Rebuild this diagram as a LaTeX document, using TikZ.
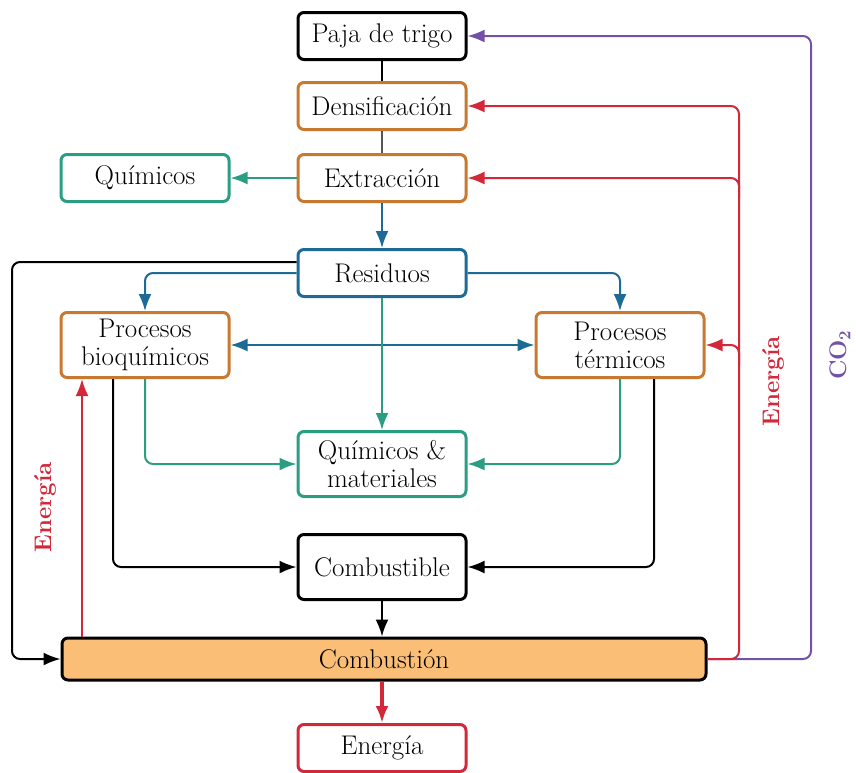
\documentclass[tikz,border=0pt]{standalone}
\usepackage{fontspec}
\usepackage{xcolor}
\usetikzlibrary{arrows.meta, calc}
\definecolor{procorange}{HTML}{C8782F}
\definecolor{flowblue}{HTML}{1D6A96}
\definecolor{flowteal}{HTML}{2A9D82}
\definecolor{energyred}{HTML}{D2283A}
\definecolor{co2purple}{HTML}{7451A8}
\definecolor{burnfill}{HTML}{FBBE76}
\definecolor{midgray}{HTML}{555555}
\tikzset{
  box/.style={draw=black, line width=3pt, rounded corners=6pt, fill=white,
    minimum width=168pt, minimum height=47pt, inner sep=2pt, align=center,
    font=\fontsize{27}{28}\selectfont},
  tallbox/.style={box, minimum height=65pt},
  link/.style={line width=2pt, rounded corners=8pt},
  arr/.style={link, -{Latex[length=17pt,width=13pt]}},
  twoarr/.style={link, {Latex[length=17pt,width=13pt]}-{Latex[length=17pt,width=13pt]}},
  sidelabel/.style={rotate=90, font=\fontsize{24}{26}\selectfont\bfseries}
}

\begin{document}
\begin{tikzpicture}[x=1pt, y=-1pt, line join=round]
  \useasboundingbox (0,0) rectangle (856,772);

  \node[box] (paja) at (382,36) {Paja de trigo};
  \node[box, draw=procorange] (dens) at (382,106) {Densificación};
  \node[box, draw=procorange] (extr) at (382,178) {Extracción};
  \node[box, draw=flowteal] (quim) at (145,178) {Químicos};
  \node[box, draw=flowblue] (resid) at (382,273) {Residuos};
  \node[tallbox, draw=procorange] (bioq) at (145,345) {Procesos\\bioquímicos};
  \node[tallbox, draw=procorange] (term) at (620,345) {Procesos\\térmicos};
  \node[tallbox, draw=flowteal] (qmat) at (382,464) {Químicos \&\\materiales};
  \node[tallbox] (combus) at (382,567) {Combustible};
  \node[box, fill=burnfill, minimum width=644pt, minimum height=42pt] (burn) at (384,659) {Combustión};
  \node[box, draw=energyred] (energ) at (382,748) {Energía};

  \coordinate (loopL) at (12,262);
  \coordinate (leftE) at (82,0);
  \coordinate (eline) at (739,0);
  \coordinate (cline) at (811,0);

  % main line
  \draw[link] (paja) -- (dens);
  \draw[link, midgray] (dens) -- (extr);
  \draw[arr, flowteal] (extr) -- (quim);
  \draw[arr, flowblue] (extr) -- (resid);

  % residues to the processes
  \draw[arr, flowblue] (resid.west) -| (bioq);
  \draw[arr, flowblue] (resid.east) -| (term);
  \draw[twoarr, flowblue] (bioq) -- (term);
  \draw[arr, flowteal] (resid) -- (qmat);
  \draw[arr, flowteal] (bioq) |- (qmat);
  \draw[arr, flowteal] (term) |- (qmat);

  % fuel and combustion
  \draw[arr] ([xshift=-32pt]bioq.south) |- (combus);
  \draw[arr] ([xshift=34pt]term.south) |- (combus);
  \draw[arr] (combus) -- (combus |- burn.north);
  \draw[arr] (resid.west |- loopL) -- (loopL) |- (burn.west);
  \draw[arr, energyred, line width=4pt] (burn.south -| energ) -- (energ);
  \draw[arr, energyred] (burn.north -| leftE) -- (bioq.south -| leftE);

  % returns on the right
  \draw[arr, co2purple] (burn.east) -- (burn.east -| cline) -- (paja.east -| cline) -- (paja.east);
  \draw[arr, energyred] (burn.east) -- (burn.east -| eline) -- (dens.east -| eline) -- (dens.east);
  \draw[arr, energyred] ($(extr.east -| eline)+(0,20)$) -- (extr.east -| eline) -- (extr.east);
  \draw[arr, energyred] ($(term.east -| eline)+(0,20)$) -- (term.east -| eline) -- (term.east);

  \node[sidelabel, energyred] (leftlab) at (45,507) {Energía};
  \node[sidelabel, energyred] (rightlab) at (773,381) {Energía};
  \node[sidelabel, co2purple] (co2lab) at (840,355) {CO\textsubscript{2}};
\end{tikzpicture}
\end{document}
